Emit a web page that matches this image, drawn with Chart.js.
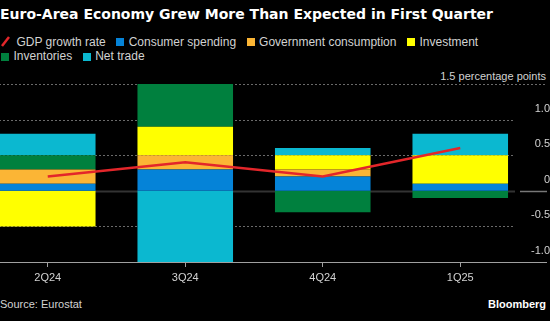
<!DOCTYPE html>
<html>
<head>
<meta charset="utf-8">
<script src="https://cdn.jsdelivr.net/npm/chart.js@4.4.1/dist/chart.umd.min.js"></script>
<style>
    html, body { margin: 0; padding: 0; background: #000; width: 550px; height: 321px; overflow: hidden; font-family: 'Liberation Sans', Arial, sans-serif; }
    #title { position: absolute; left: 0; top: 6px; font-family: 'DejaVu Sans', sans-serif; font-size: 14px; font-weight: bold; color: #fff; line-height: 17px; white-space: nowrap; }
    #legend { position: absolute; left: 1px; top: 34.5px; width: 549px; display: flex; flex-wrap: wrap; font-size: 12px; line-height: 14.7px; color: #d2d2d2; white-space: nowrap; }
    .legend-item { display: flex; align-items: center; margin-right: 10.5px; }
    .swatch { width: 8px; height: 8px; margin-right: 4.5px; }
    .slash { margin-right: 6.5px; }
    #unit { position: absolute; right: 4px; top: 70px; font-size: 11px; color: #d2d2d2; }
    #chart-wrap { position: absolute; left: -21px; top: 60px; width: 571px; height: 230px; }
    #source { position: absolute; left: 0; top: 298px; font-size: 11px; color: #d2d2d2; }
    #brand { position: absolute; right: 4px; top: 297.5px; font-size: 11px; font-weight: bold; color: #fff; }
</style>
</head>
<body>
<div id="title">Euro-Area Economy Grew More Than Expected in First Quarter</div>
<div id="legend"></div>
<div id="unit">1.5 percentage points</div>
<div id="chart-wrap"><canvas id="gdpChart" width="571" height="230"></canvas></div>
<div id="source">Source: Eurostat</div>
<div id="brand">Bloomberg</div>
<script>
// --- Data ---
const quarters = ['2Q24', '3Q24', '4Q24', '1Q25'];
const gdpGrowth = [0.2, 0.4, 0.2, 0.6];
const consumerSpending = [0.1, 0.3, 0.2, 0.1];
const governmentConsumption = [0.2, 0.2, 0.1, 0.0];
const investment = [-0.5, 0.4, 0.2, 0.4];
const inventories = [0.2, 0.6, -0.3, -0.1];
const netTrade = [0.3, -1.0, 0.1, 0.3];
const yTicks = [-1.0, -0.5, 0, 0.5, 1.0, 1.5];

// --- Colors ---
const RED = '#e3262a';
const colors = {
    consumer: '#0583d8',
    government: '#fbb535',
    investment: '#ffff00',
    inventories: '#00803e',
    netTrade: '#0bb8d0'
};

const barSeries = [
    { label: 'Consumer spending', data: consumerSpending, color: colors.consumer },
    { label: 'Government consumption', data: governmentConsumption, color: colors.government },
    { label: 'Investment', data: investment, color: colors.investment },
    { label: 'Inventories', data: inventories, color: colors.inventories },
    { label: 'Net trade', data: netTrade, color: colors.netTrade }
];

// --- Legend (html) ---
function buildLegend() {
    const legend = document.getElementById('legend');
    let html = `<span class="legend-item"><svg class="slash" width="9" height="11"><line x1="1" y1="10" x2="8" y2="1" stroke="${RED}" stroke-width="2.5"/></svg>GDP growth rate</span>`;
    html += barSeries.map(s => `
        <span class="legend-item"><span class="swatch" style="background:${s.color}"></span>${s.label}</span>
    `).join('');
    legend.innerHTML = html;
}

// --- Custom grid: dotted lines, zero line, base axis ---
const gridPlugin = {
    id: 'bbgGrid',
    beforeDatasetsDraw(chart) {
        const { ctx, chartArea, scales: { y } } = chart;
        const gridEnd = chartArea.right - 14;
        ctx.save();
        ctx.lineWidth = 1;
        yTicks.forEach(v => {
            const py = Math.round(y.getPixelForValue(v)) + 0.5;
            if (v === yTicks[0]) return;
            if (v === 0) {
                ctx.setLineDash([]);
                ctx.strokeStyle = '#333';
                ctx.lineWidth = 2;
                ctx.beginPath();
                ctx.moveTo(chartArea.left, py);
                ctx.lineTo(gridEnd, py);
                ctx.stroke();
                ctx.strokeStyle = '#777';
                ctx.lineWidth = 1.5;
                ctx.beginPath();
                ctx.moveTo(chartArea.right - 9, py);
                ctx.lineTo(chart.width - 3, py);
                ctx.stroke();
                ctx.lineWidth = 1;
                return;
            }
            ctx.setLineDash([2, 2]);
            ctx.strokeStyle = '#6a6a6a';
            ctx.beginPath();
            ctx.moveTo(chartArea.left, py);
            ctx.lineTo(v === yTicks[yTicks.length - 1] ? chart.width - 3 : gridEnd, py);
            ctx.stroke();
        });
        ctx.restore();
    },
    afterDatasetsDraw(chart) {
        const { ctx, chartArea } = chart;
        const py = Math.round(chartArea.bottom) + 0.5;
        ctx.save();
        ctx.strokeStyle = '#a0a0a0';
        ctx.lineWidth = 1;
        ctx.beginPath();
        ctx.moveTo(chartArea.left, py);
        ctx.lineTo(chart.width - 3, py);
        ctx.stroke();
        ctx.restore();
    }
};

// --- Chart ---
Chart.defaults.font.family = "'Liberation Sans', Arial, sans-serif";
Chart.defaults.font.size = 11;
Chart.defaults.color = '#d2d2d2';

function initChart() {
    const ctx = document.getElementById('gdpChart').getContext('2d');
    const datasets = [{
        type: 'line',
        label: 'GDP growth rate',
        data: gdpGrowth,
        borderColor: RED,
        borderWidth: 2.5,
        pointRadius: 0,
        tension: 0,
        stack: 'gdp',
        order: 0
    }].concat(barSeries.map(s => ({
        type: 'bar',
        label: s.label,
        data: s.data,
        backgroundColor: s.color,
        borderWidth: 0,
        stack: 'parts',
        order: 1,
        barPercentage: 0.695,
        categoryPercentage: 1.0
    })));

    new Chart(ctx, {
        data: { labels: quarters, datasets: datasets },
        options: {
            responsive: false,
            animation: false,
            layout: { padding: { top: 24, left: 0, right: 0, bottom: 0 } },
            plugins: {
                legend: { display: false },
                tooltip: { enabled: false }
            },
            scales: {
                x: {
                    stacked: true,
                    offset: true,
                    grid: { drawOnChartArea: false, drawTicks: true, tickLength: 5, color: '#a0a0a0', offset: false },
                    border: { display: false },
                    ticks: { padding: 4, maxRotation: 0, autoSkip: false, color: '#d2d2d2' },
                    afterFit: s => { s.height = 28; }
                },
                y: {
                    stacked: true,
                    position: 'right',
                    min: -1.0,
                    max: 1.5,
                    grid: { display: false, drawTicks: false },
                    border: { display: false },
                    afterBuildTicks: s => { s.ticks = yTicks.map(v => ({ value: v })); },
                    afterFit: s => { s.width = 21; },
                    ticks: {
                        crossAlign: 'far',
                        padding: -3,
                        labelOffset: -11,
                        color: '#d2d2d2',
                        callback: v => v === 1.5 ? '' : (v === 0 ? '0' : v.toFixed(1))
                    }
                }
            }
        },
        plugins: [gridPlugin]
    });
}

buildLegend();
initChart();
</script>
</body>
</html>
